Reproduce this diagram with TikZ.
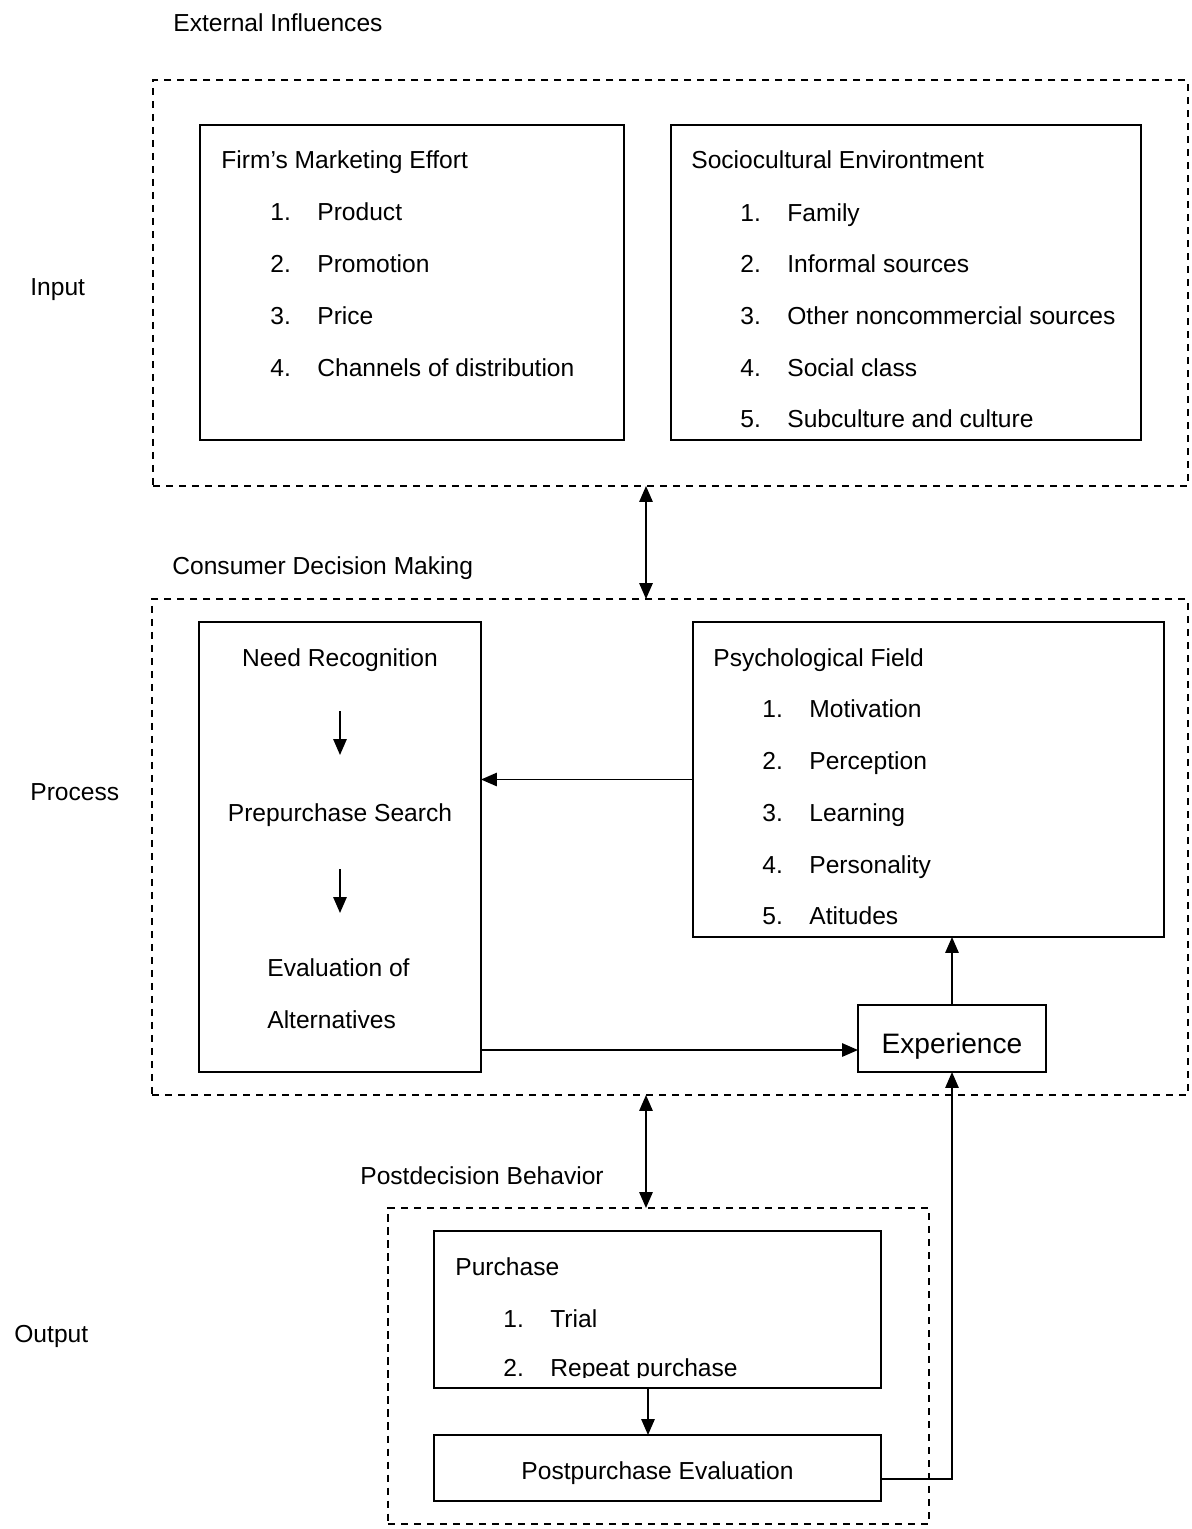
\documentclass[tikz,border=0pt]{standalone}
\usepackage{fontspec}
\setmainfont{Liberation Sans}
\usetikzlibrary{arrows.meta}
\begin{document}
\begin{tikzpicture}[x=0.02cm, y=-0.02cm,
  txt/.style={anchor=base west, inner sep=0pt, font=\fontsize{14}{17}\selectfont},
  ctxt/.style={txt, anchor=base},
  box/.style={draw, line width=1.2pt, inner sep=0pt, outer sep=0pt},
  dbox/.style={draw, line width=1.1pt, dash pattern=on 4pt off 3.4pt, inner sep=0pt, outer sep=0pt},
  tip/.tip={Triangle[length=9pt, width=7.5pt]},
  arr/.style={-tip, line width=1.1pt},
  darr/.style={tip-tip, line width=1.1pt}]
\useasboundingbox (0,0) rectangle (1192,1529);

% ---- group frames (dashed)
\node[dbox, minimum width=20.70cm, minimum height=8.12cm] (inframe) at (670.5,283) {};
\node[dbox, minimum width=20.72cm, minimum height=9.92cm] (procframe) at (670,847) {};
\node[dbox, minimum width=10.82cm, minimum height=6.32cm] (outframe) at (658.5,1366) {};

% ---- boxes
\node[box, minimum width=8.48cm, minimum height=6.30cm] (firm) at (412,282.5) {};
\node[box, minimum width=9.40cm, minimum height=6.30cm] (socio) at (906,282.5) {};
\node[box, minimum width=5.64cm, minimum height=9.00cm] (need) at (340,847) {};
\node[box, minimum width=9.42cm, minimum height=6.30cm] (psych) at (928.5,779.5) {};
\node[box, minimum width=3.76cm, minimum height=1.34cm] (exp) at (952,1038.5) {};
\node[box, minimum width=8.94cm, minimum height=3.14cm] (purch) at (657.5,1309.5) {};
\node[box, minimum width=8.94cm, minimum height=1.32cm] (post) at (657.5,1468) {};
\node[ctxt, font=\fontsize{16}{19}\selectfont] (expt) at (952,1053) {Experience};
\node[ctxt] (postt) at (657.5,1479) {Postpurchase Evaluation};

% ---- side and group labels
\node[txt] (lext) at (173,31) {External Influences};
\node[txt] (linput) at (30,295) {Input};
\node[txt] (lcdm) at (172,574) {Consumer Decision Making};
\node[txt] (lproc) at (30,800) {Process};
\node[txt] (lpdb) at (360,1184) {Postdecision Behavior};
\node[txt] (lout) at (14,1342) {Output};

% ---- firm's marketing effort
\node[txt] (firmt) at (221,168) {Firm’s Marketing Effort};
\node[txt] (fn1) at (270,220) {1.}; \node[txt] (fi1) at (317,220) {Product};
\node[txt] (fn2) at (270,272) {2.}; \node[txt] (fi2) at (317,272) {Promotion};
\node[txt] (fn3) at (270,324) {3.}; \node[txt] (fi3) at (317,324) {Price};
\node[txt] (fn4) at (270,376) {4.}; \node[txt] (fi4) at (317,376) {Channels of distribution};

% ---- sociocultural environment
\node[txt] (sociot) at (691,168) {Sociocultural Environtment};
\node[txt] (sn1) at (740,221) {1.}; \node[txt] (si1) at (787,221) {Family};
\node[txt] (sn2) at (740,272) {2.}; \node[txt] (si2) at (787,272) {Informal sources};
\node[txt] (sn3) at (740,324) {3.}; \node[txt] (si3) at (787,324) {Other noncommercial sources};
\node[txt] (sn4) at (740,376) {4.}; \node[txt] (si4) at (787,376) {Social class};
\node[txt] (sn5) at (740,427) {5.}; \node[txt] (si5) at (787,427) {Subculture and culture};

% ---- decision steps
\node[ctxt] (nrec) at (340,666) {Need Recognition};
\node[ctxt] (psrch) at (340,821) {Prepurchase Search};
\node[txt] (eval1) at (267,976) {Evaluation of};
\node[txt] (eval2) at (267,1028) {Alternatives};
\coordinate (s1a) at (340,711); \coordinate (s1b) at (340,755);
\coordinate (s2a) at (340,869); \coordinate (s2b) at (340,913);
\draw[arr] (s1a) -- (s1b);
\draw[arr] (s2a) -- (s2b);

% ---- psychological field
\node[txt] (psycht) at (713,666) {Psychological Field};
\node[txt] (pn1) at (762,717) {1.}; \node[txt] (pi1) at (809,717) {Motivation};
\node[txt] (pn2) at (762,769) {2.}; \node[txt] (pi2) at (809,769) {Perception};
\node[txt] (pn3) at (762,821) {3.}; \node[txt] (pi3) at (809,821) {Learning};
\node[txt] (pn4) at (762,873) {4.}; \node[txt] (pi4) at (809,873) {Personality};
\node[txt] (pn5) at (762,924) {5.}; \node[txt] (pi5) at (809,924) {Atitudes};

% ---- purchase (text frame cuts the last line short)
\node[txt] (purcht) at (455,1275) {Purchase};
\node[txt] (un1) at (503,1327) {1.}; \node[txt] (ui1) at (550,1327) {Trial};
\begin{scope}
  \clip (434,1231) rectangle (881,1377.5);
  \node[txt] (un2) at (503,1376) {2.}; \node[txt] (ui2) at (550,1376) {Repeat purchase};
\end{scope}

% ---- connectors
\coordinate (ax) at (646,0);
\draw[darr] (inframe.south -| ax) -- (procframe.north -| ax);
\draw[darr] (procframe.south -| ax) -- (outframe.north -| ax);
\draw[arr] (psych.west) -- (need.east |- psych.west);
\coordinate (ey) at (0,1050);
\draw[arr] (need.east |- ey) -- (exp.west |- ey);
\draw[arr] (exp.north) -- (exp.north |- psych.south);
\coordinate (px) at (648,0);
\draw[arr] (purch.south -| px) -- (post.north -| px);
\coordinate (py) at (0,1479);
\draw[arr] (post.east |- py) -| (exp.south);
\end{tikzpicture}
\end{document}
